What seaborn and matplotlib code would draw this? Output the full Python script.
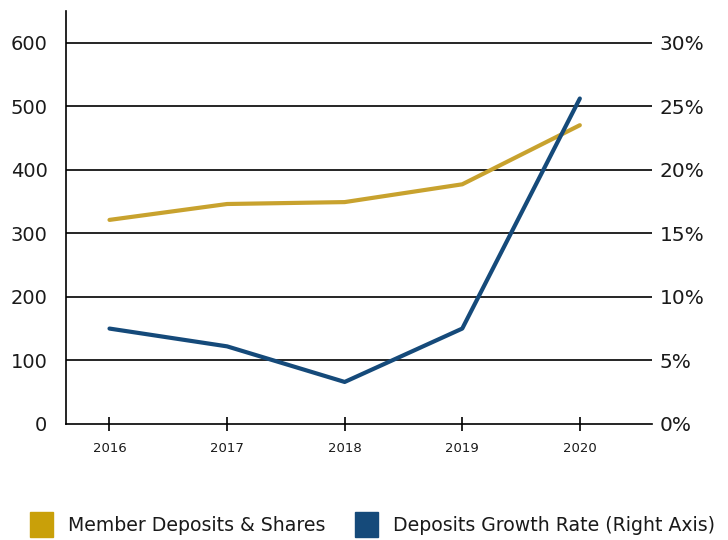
import matplotlib
matplotlib.use("Agg")
import matplotlib.pyplot as plt
import seaborn as sns
from matplotlib.patches import Patch
from matplotlib.ticker import FuncFormatter

years = ["2016", "2017", "2018", "2019", "2020"]
deposits = [321, 346, 349, 377, 470]
growth_rate = [7.5, 6.1, 3.3, 7.5, 25.6]

left_ticks = [0, 100, 200, 300, 400, 500, 600]
right_ticks = [0, 5, 10, 15, 20, 25, 30]

gold = "#C8A22E"
gold_legend = "#C9A009"
blue = "#154A7A"
ink = "#1a1a1a"

sns.set_style("white")
plt.rcParams["font.family"] = ["DejaVu Sans"]
plt.rcParams["text.color"] = ink
plt.rcParams["xtick.color"] = ink
plt.rcParams["ytick.color"] = ink

fig, ax = plt.subplots(figsize=(7.28, 5.4), dpi=100)
fig.subplots_adjust(left=0.09, right=0.895, top=0.98, bottom=0.215)

pos = list(range(len(years)))
ax2 = ax.twinx()

for y in left_ticks[1:]:
    ax.axhline(y, color="black", lw=1.2, zorder=0)

sns.lineplot(x=pos, y=deposits, ax=ax, color=gold, lw=3)
sns.lineplot(x=pos, y=growth_rate, ax=ax2, color=blue, lw=3)

ax.set_xlim(-0.374, 4.61)
ax.set_ylim(0, 650)
ax2.set_ylim(0, 32.5)

ax.set_yticks(left_ticks)
ax.set_yticklabels([str(v) for v in left_ticks], fontsize=14)
ax.tick_params(axis="y", left=False, length=0, pad=13)

ax2.set_yticks(right_ticks)
ax2.yaxis.set_major_formatter(FuncFormatter(lambda v, _: f"{v:.0f}%"))
ax2.tick_params(axis="y", right=False, length=0, pad=6, labelsize=14.5)

ax.set_xticks(pos)
ax.set_xticklabels(years, fontsize=9.5)
ax.tick_params(axis="x", bottom=True, direction="inout", length=10, width=1.2,
               color="black", pad=8)

for a in (ax, ax2):
    for side in ("top", "right"):
        a.spines[side].set_visible(False)
ax2.spines["left"].set_visible(False)
ax2.spines["bottom"].set_visible(False)
for side in ("left", "bottom"):
    ax.spines[side].set_color("black")
    ax.spines[side].set_linewidth(1.2)

handles = [Patch(color=gold_legend, label="Member Deposits & Shares"),
           Patch(color=blue, label="Deposits Growth Rate (Right Axis)")]
fig.legend(handles=handles, loc="lower left", bbox_to_anchor=(0.018, -0.025), ncol=2,
           frameon=False, fontsize=13.6, handlelength=1.2, handleheight=1.6,
           columnspacing=1.6, handletextpad=0.8)

fig.savefig("out.png", dpi=100)
